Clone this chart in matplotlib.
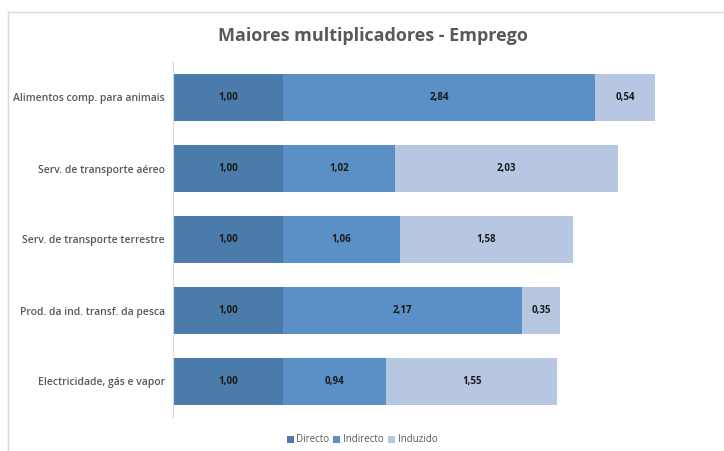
import matplotlib.pyplot as plt
from matplotlib.lines import Line2D

categories = [
    "Alimentos comp. para animais",
    "Serv. de transporte aéreo",
    "Serv. de transporte terrestre",
    "Prod. da ind. transf. da pesca",
    "Electricidade, gás e vapor",
]
directo = [1.00, 1.00, 1.00, 1.00, 1.00]
indirecto = [2.84, 1.02, 1.06, 2.17, 0.94]
induzido = [0.54, 2.03, 1.58, 0.35, 1.55]

series_names = ["Directo", "Indirecto", "Induzido"]
colors = ["#4A7BAA", "#5B90C6", "#B8C7E1"]

plt.rcParams["font.family"] = ["Open Sans", "DejaVu Sans"]

fig = plt.figure(figsize=(7.24, 4.51), dpi=100)
ax = fig.add_axes([173 / 724, 34 / 451, 550 / 724, 355 / 451])

ypos = list(range(len(categories)))
left = [0.0] * len(categories)
for name, vals, col in zip(series_names, [directo, indirecto, induzido], colors):
    bars = ax.barh(ypos, vals, left=left, height=0.66, color=col, label=name)
    for b, v in zip(bars, vals):
        ax.text(b.get_x() + b.get_width() / 2, b.get_y() + b.get_height() / 2,
                f"{v:.2f}".replace(".", ","), ha="center", va="center",
                fontsize=7, fontweight="bold", color="#1a1a1a")
    left = [l + v for l, v in zip(left, vals)]

ax.set_xlim(0, 5)
ax.set_ylim(len(categories) - 0.5, -0.5)
ax.set_yticks(ypos)
ax.set_yticklabels(categories, fontsize=7.5, fontweight="semibold", color="#595959")
ax.tick_params(axis="y", length=0, pad=6)
ax.set_xticks([])
for s in ["top", "right", "bottom"]:
    ax.spines[s].set_visible(False)
ax.spines["left"].set_color("#D9D9D9")

fig.text(373 / 724, 1 - 36 / 451, "Maiores multiplicadores - Emprego",
         ha="center", va="center", fontsize=13, fontweight="bold", color="#595959")

fig.legend(loc="center", bbox_to_anchor=(362 / 724, 1 - 440 / 451), ncol=3,
           frameon=False, fontsize=7, handlelength=0.7, handleheight=0.7,
           handletextpad=0.3, columnspacing=0.4, labelcolor="#595959")

# chart border
fig.add_artist(Line2D([8 / 724, 1], [1 - 12 / 451] * 2, color="#D9D9D9", lw=1))
fig.add_artist(Line2D([8 / 724] * 2, [0, 1 - 12 / 451], color="#D9D9D9", lw=1))

fig.savefig("out.png", dpi=100)
